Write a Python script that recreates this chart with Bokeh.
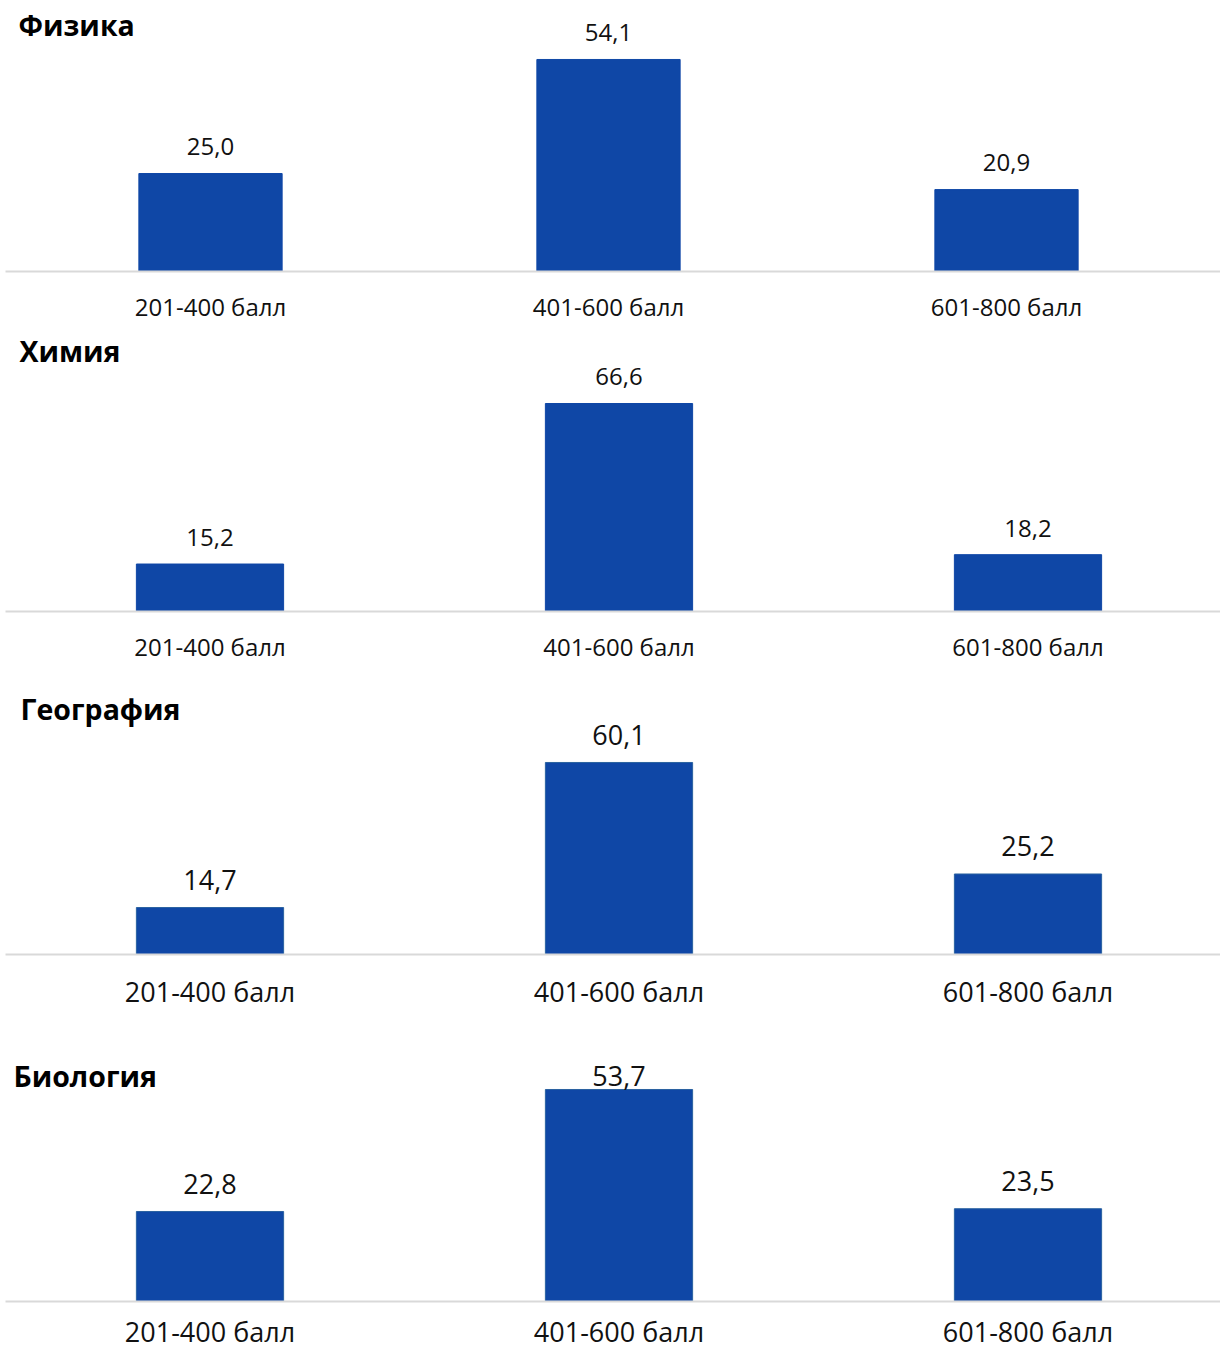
from bokeh.plotting import figure
from bokeh.layouts import column
from bokeh.models import Range1d, FixedTicker, Label, ColumnDataSource
from bokeh.core.properties import value
from bokeh.embed import file_html
from bokeh.resources import INLINE

# ---- data ----
categories = ["201-400 балл", "401-600 балл", "601-800 балл"]
subjects = ["Физика", "Химия", "География", "Биология"]
physics = [25.0, 54.1, 20.9]
chemistry = [15.2, 66.6, 18.2]
geography = [14.7, 60.1, 25.2]
biology = [22.8, 53.7, 23.5]

BAR = "#0F47A6"
AXIS = "#D9D9D9"
FONT = "Open Sans"
PAGE_W = 1220
FRAME_L = 5          # common frame left edge (px)

# ---- per-panel styling / layout (page pixels) ----
styles = [
    dict(top=0, height=330, baseline=271, ppu=3.919, c0=210, step=398,
         vfs=24, cfs=24, tfs=28.5, tx=18, tb=36, standoff=18, edge=BAR),
    dict(top=330, height=360, baseline=611, ppu=3.123, c0=209.5, step=409,
         vfs=24, cfs=24, tfs=28.5, tx=19, tb=362, standoff=18, edge=BAR),
    dict(top=690, height=362, baseline=954, ppu=3.195, c0=209.5, step=409,
         vfs=27, cfs=27, tfs=28.5, tx=20, tb=720, standoff=18, edge="#2A62A0"),
    dict(top=1052, height=300, baseline=1301, ppu=3.948, c0=209.5, step=409,
         vfs=27, cfs=27, tfs=28.5, tx=13, tb=1087, standoff=11, edge="#2A62A0"),
]
series = [physics, chemistry, geography, biology]

LABEL_GAP = 17      # px between value-label baseline and bar top
LABEL_CLAMP = 34    # min px between panel top and value-label baseline
BASE_SHIFT = 0.4    # renderer draws 'alphabetic' text about this many em lower


def fmt(v):
    return f"{v:.1f}".replace(".", ",")


figs = []
for name, vals, s in zip(subjects, series, styles):
    frame_h = s["baseline"] - s["top"]
    frame_w = PAGE_W - FRAME_L
    y_end = frame_h / s["ppu"]
    x_start = -(s["c0"] - FRAME_L) / s["step"]
    x_end = x_start + frame_w / s["step"]

    p = figure(width=PAGE_W, height=s["height"], output_backend="svg", toolbar_location=None,
               x_range=Range1d(x_start, x_end), y_range=Range1d(0, y_end),
               min_border_left=FRAME_L, min_border_right=0,
               min_border_top=0, min_border_bottom=s["height"] - frame_h)
    p.outline_line_color = None
    p.xgrid.visible = False
    p.ygrid.visible = False
    p.yaxis.visible = False
    p.background_fill_color = "white"
    p.border_fill_color = "white"

    xs = list(range(len(categories)))
    shift = BASE_SHIFT * s["vfs"]
    label_y = [min(v + (LABEL_GAP + shift) / s["ppu"],
                   y_end - (LABEL_CLAMP - shift) / s["ppu"]) for v in vals]
    src = ColumnDataSource(dict(x=xs, top=vals, ly=label_y, txt=[fmt(v) for v in vals]))

    p.vbar(x="x", top="top", bottom=0, width=0.36, source=src,
           fill_color=BAR, line_color=s["edge"], line_width=1)
    p.text(x="x", y="ly", text="txt", source=src, text_align="center",
           text_baseline="alphabetic", text_font=value(FONT),
           text_font_size=f"{s['vfs']}px", text_color="#111111")

    ax = p.xaxis[0]
    ax.ticker = FixedTicker(ticks=xs)
    ax.major_label_overrides = {i: c for i, c in zip(xs, categories)}
    ax.major_tick_line_color = None
    ax.minor_tick_line_color = None
    ax.major_tick_out = 0
    ax.major_tick_in = 0
    ax.axis_line_color = AXIS
    ax.axis_line_width = 2
    ax.major_label_standoff = s["standoff"]
    ax.major_label_text_font = FONT
    ax.major_label_text_font_size = f"{s['cfs']}px"
    ax.major_label_text_color = "#111111"

    p.add_layout(Label(x=s["tx"] - FRAME_L,
                       y=frame_h - (s["tb"] - s["top"]) + BASE_SHIFT * s["tfs"],
                       x_units="screen", y_units="screen", text=name,
                       text_font=FONT, text_font_size=f"{s['tfs']}px",
                       text_font_style="bold", text_color="#000000",
                       text_baseline="alphabetic", text_align="left"))
    figs.append(p)

layout = column(*figs, spacing=0)
open("out.html", "w").write(file_html(layout, INLINE))
